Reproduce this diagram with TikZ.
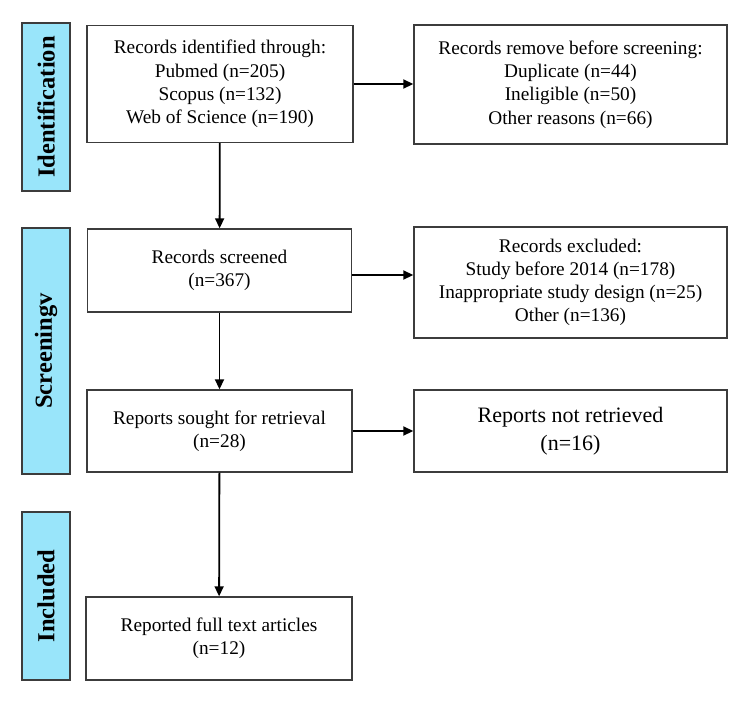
\documentclass[tikz,border=0pt]{standalone}
\usepackage{fontspec}
\setmainfont{Liberation Serif}
\usetikzlibrary{positioning, arrows.meta}
\definecolor{stagefill}{RGB}{153,229,250}
\definecolor{edgegrey}{RGB}{60,60,60}

\begin{document}
\begin{tikzpicture}[x=1pt, y=-1pt, >={Triangle[length=10pt, width=9pt]},
        box/.style={draw=edgegrey, line width=1.4pt, fill=white, inner sep=0pt, align=center,
                    font=\fontsize{19.3}{23.2}\selectfont},
        stage/.style={draw=edgegrey, line width=1.4pt, fill=stagefill, inner sep=0pt, align=center,
                      minimum width=48pt, font=\fontsize{24.5}{29}\selectfont\bfseries},
        flow/.style={->, line width=1.8pt}]
        \useasboundingbox (0,0) rectangle (750,707);

        \node[stage] (identification) at (46,107) [minimum height=168pt] {\rotatebox{90}{Identification}};
        \node[stage] (screening)      at (46,351) [minimum height=246pt] {\rotatebox{90}{Screeningv}};
        \node[stage] (included)       at (46,596) [minimum height=168pt] {\rotatebox{90}{Included}};

        \node[box] (identified) at (220,84)    [minimum width=266pt, minimum height=117pt] {Records identified through:\\Pubmed (n=205)\\Scopus (n=132)\\Web of Science (n=190)};
        \node[box] (removed)    at (570.5,84.5) [minimum width=313pt, minimum height=119pt] {Records remove before screening:\\Duplicate (n=44)\\Ineligible (n=50)\\Other reasons (n=66)};
        \node[box] (screened)   at (219.5,270.5) [minimum width=264pt, minimum height=83pt] {Records screened\\(n=367)};
        \node[box] (excluded)   at (570.5,282.5) [minimum width=313pt, minimum height=111pt] {Records excluded:\\Study before 2014 (n=178)\\Inappropriate study design (n=25)\\Other (n=136)};
        \node[box] (sought)     at (219.5,431) [minimum width=265pt, minimum height=82pt] {Reports sought for retrieval\\(n=28)};
        \node[box] (notretrieved) at (570.5,431) [minimum width=313pt, minimum height=82pt, font=\fontsize{22}{28.5}\selectfont] {Reports not retrieved\\(n=16)};
        \node[box] (fulltext)   at (219,638.5) [minimum width=266pt, minimum height=83pt] {Reported full text articles\\(n=12)};

        \draw[flow] (identified) -- (screened);
        \draw[flow] (screened) -- (sought);
        \draw[flow] (sought) -- (fulltext);
        \draw[flow] (identified.east) -- (identified.east -| removed.west);
        \draw[flow] ([yshift=-4.5pt]screened.east) -- ([yshift=-4.5pt]screened.east -| excluded.west);
        \draw[flow] (sought.east) -- (sought.east -| notretrieved.west);
    \end{tikzpicture}
\end{document}
